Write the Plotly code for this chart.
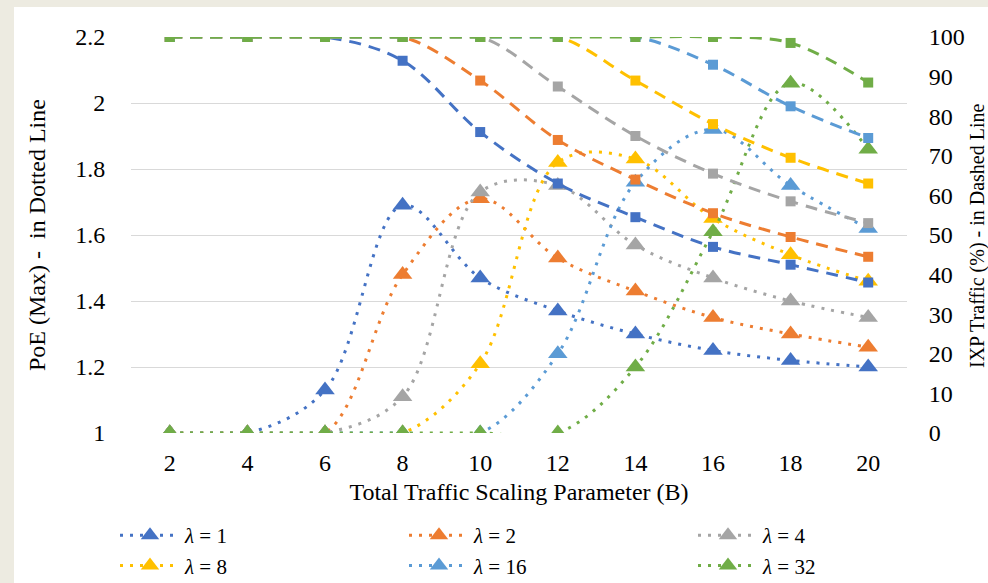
import plotly.graph_objects as go

# Total traffic scaling parameter (B)
B = [2, 4, 6, 8, 10, 12, 14, 16, 18, 20]

# PoE (Max) per lambda -- dotted lines, left axis
poe_l1 = [1.00, 1.00, 1.13, 1.69, 1.47, 1.37, 1.30, 1.25, 1.22, 1.20]
poe_l2 = [1.00, 1.00, 1.00, 1.48, 1.71, 1.53, 1.43, 1.35, 1.30, 1.26]
poe_l4 = [1.00, 1.00, 1.00, 1.11, 1.73, 1.75, 1.57, 1.47, 1.40, 1.35]
poe_l8 = [1.00, 1.00, 1.00, 1.00, 1.21, 1.82, 1.83, 1.65, 1.54, 1.46]
poe_l16 = [1.00, 1.00, 1.00, 1.00, 1.00, 1.24, 1.76, 1.92, 1.75, 1.62]
poe_l32 = [1.00, 1.00, 1.00, 1.00, 1.00, 1.00, 1.20, 1.61, 2.06, 1.86]

# IXP traffic (%) per lambda -- dashed lines, right axis
ixp_l1 = [100, 100, 100, 94, 76, 63, 54.5, 47, 42.5, 38]
ixp_l2 = [100, 100, 100, 100, 89, 74, 64, 55.5, 49.5, 44.5]
ixp_l4 = [100, 100, 100, 100, 100, 87.5, 75, 65.5, 58.5, 53]
ixp_l8 = [100, 100, 100, 100, 100, 100, 89, 78, 69.5, 63]
ixp_l16 = [100, 100, 100, 100, 100, 100, 100, 93, 82.5, 74.5]
ixp_l32 = [100, 100, 100, 100, 100, 100, 100, 100, 98.5, 88.5]

labels = ["1", "2", "4", "8", "16", "32"]
colors = ["#4472C4", "#ED7D31", "#A5A5A5", "#FFC000", "#5B9BD5", "#70AD47"]
poe = [poe_l1, poe_l2, poe_l4, poe_l8, poe_l16, poe_l32]
ixp = [ixp_l1, ixp_l2, ixp_l4, ixp_l8, ixp_l16, ixp_l32]

FONT = "Times New Roman, Liberation Serif, DejaVu Serif, serif"

fig = go.Figure()

for lab, col, ys in zip(labels, colors, poe):
    fig.add_trace(go.Scatter(
        x=B, y=ys, name=f"<i>λ</i> = {lab}", yaxis="y",
        mode="lines+markers",
        line=dict(color=col, width=3, dash="3px,7px", shape="spline", smoothing=1.0),
        marker=dict(symbol="triangle-up", size=17, color=col),
    ))

for lab, col, ys in zip(labels, colors, ixp):
    fig.add_trace(go.Scatter(
        x=B, y=ys, name=f"IXP λ = {lab}", yaxis="y2", showlegend=False,
        mode="lines+markers",
        line=dict(color=col, width=3, dash="12px,8px", shape="spline", smoothing=1.0),
        marker=dict(symbol="square", size=10, color=col),
    ))

L, R, T, Bm = 131, 81, 37, 150
W, H = 988, 583
pw, ph = W - L - R, H - T - Bm

def px_x(p):
    return (p - L) / pw

def px_y(p):
    return (H - Bm - p) / ph

fig.update_layout(
    width=W, height=H,
    margin=dict(l=L, r=R, t=T, b=Bm, pad=0, autoexpand=False),
    paper_bgcolor="#EDEBE1",
    plot_bgcolor="white",
    font=dict(family=FONT, size=24, color="#000000"),
    xaxis=dict(
        range=[1, 21], tickvals=B, showgrid=False, zeroline=False,
        showline=False, ticks="outside", ticklen=8, tickcolor="rgba(0,0,0,0)",
        title=dict(text="Total Traffic Scaling Parameter (B)", standoff=8,
                   font=dict(family=FONT, size=24)),
        tickfont=dict(family=FONT, size=24),
    ),
    yaxis=dict(
        range=[1, 2.2], dtick=0.2, tick0=1, showgrid=True, gridcolor="#D9D9D9",
        gridwidth=1.3, zeroline=False, showline=False,
        ticks="outside", ticklen=20, tickcolor="rgba(0,0,0,0)",
        tickfont=dict(family=FONT, size=24),
    ),
    yaxis2=dict(
        range=[0, 100], dtick=10, overlaying="y", side="right",
        showgrid=False, zeroline=False, showline=False,
        ticks="outside", ticklen=16, tickcolor="rgba(0,0,0,0)",
        tickfont=dict(family=FONT, size=24),
    ),
    legend=dict(
        orientation="h", x=px_x(115), y=px_y(515), xanchor="left", yanchor="top",
        entrywidth=214, entrywidthmode="pixels", itemwidth=60,
        font=dict(family=FONT, size=21), bgcolor="rgba(0,0,0,0)", tracegroupgap=0,
    ),
    shapes=[dict(
        type="rect", xref="paper", yref="paper", layer="below",
        x0=px_x(14), x1=px_x(1000), y0=px_y(600), y1=px_y(7),
        fillcolor="white", line=dict(width=0),
    )],
    annotations=[
        dict(text="PoE (Max) -  in Dotted Line", xref="paper", yref="paper",
             x=px_x(37), y=0.5, textangle=-90, showarrow=False,
             xanchor="center", yanchor="middle", font=dict(family=FONT, size=24)),
        dict(text="IXP Traffic (%) - in Dashed Line", xref="paper", yref="paper",
             x=px_x(977), y=0.5, textangle=-90, showarrow=False,
             xanchor="center", yanchor="middle", font=dict(family=FONT, size=20)),
    ],
)

fig.write_html("out.html")
